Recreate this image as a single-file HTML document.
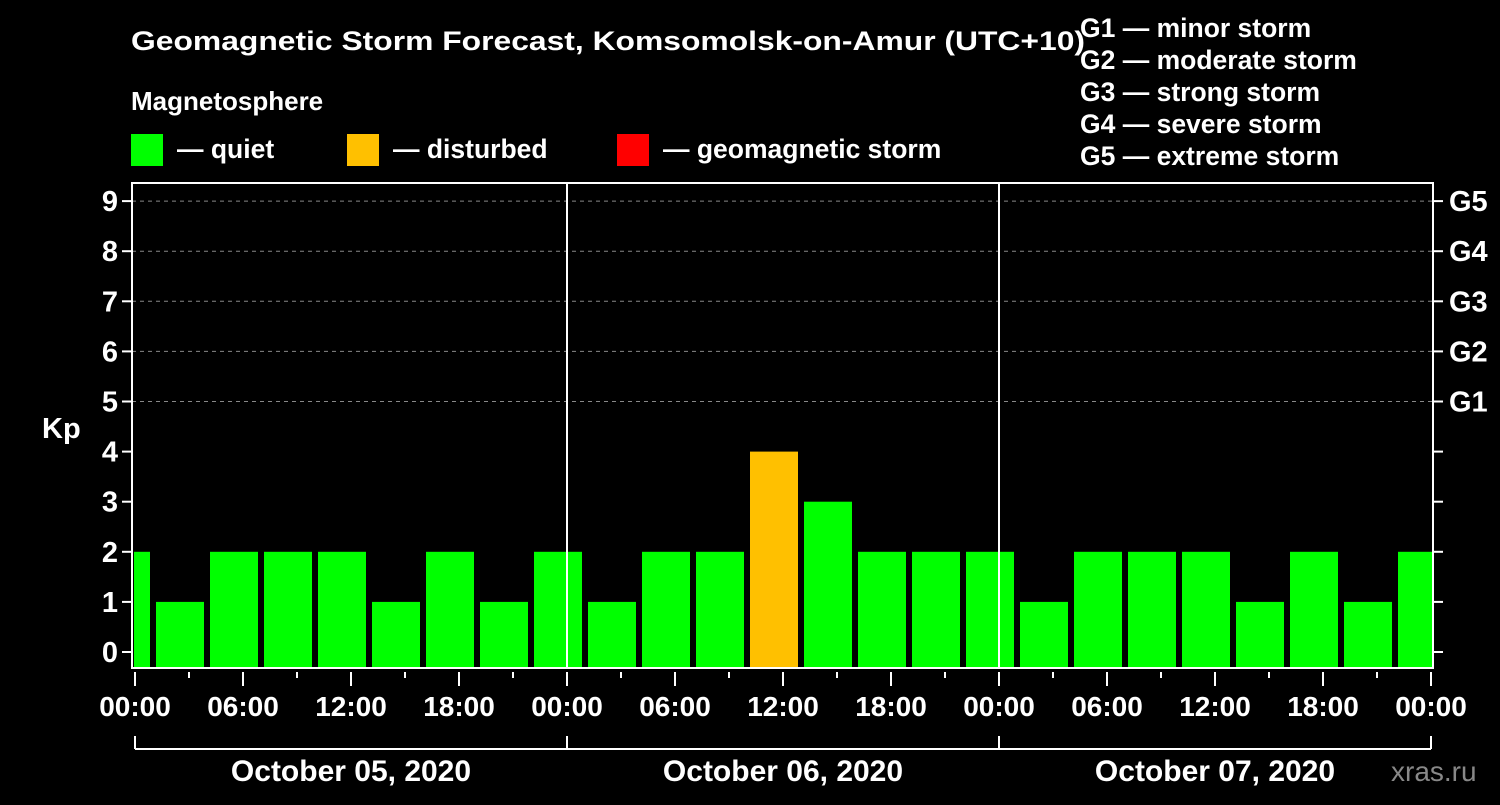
<!DOCTYPE html>
<html><head><meta charset="utf-8"><style>
html,body{margin:0;padding:0;background:#000;}
svg text{font-family:"Liberation Sans",Arial,sans-serif;font-weight:bold;fill:#fff;}
</style></head><body>
<svg id="chart" width="1500" height="800" xmlns="http://www.w3.org/2000/svg">
<rect width="1500" height="800" fill="#000"/>
<text x="131" y="50" font-size="26.5" textLength="954" lengthAdjust="spacingAndGlyphs">Geomagnetic Storm Forecast, Komsomolsk-on-Amur (UTC+10)</text>
<text x="131" y="110" font-size="26">Magnetosphere</text>
<g>
<rect x="131" y="134" width="32" height="32" fill="#00ff00"/>
<text x="177" y="158" font-size="26.5">— quiet</text>
<rect x="347" y="134" width="32" height="32" fill="#ffc000"/>
<text x="393" y="158" font-size="26.5">— disturbed</text>
<rect x="617" y="134" width="32" height="32" fill="#ff0000"/>
<text x="663" y="158" font-size="26.5">— geomagnetic storm</text>
</g>
<g font-size="26.5">
<text x="1080" y="37">G1 — minor storm</text>
<text x="1080" y="69">G2 — moderate storm</text>
<text x="1080" y="101">G3 — strong storm</text>
<text x="1080" y="133">G4 — severe storm</text>
<text x="1080" y="165">G5 — extreme storm</text>
</g>
<text x="42" y="438" font-size="29">Kp</text>
<g id="plot"></g>
<text x="1391" y="781" font-size="28" style="fill:#888;font-weight:normal">xras.ru</text>
</svg>
<script>
const kpValues=[2,1,2,2,2,1,2,1,2,1,2,2,4,3,2,2,2,1,2,2,2,1,2,1,2];
const yTicks=[0,1,2,3,4,5,6,7,8,9];
const gLabels=["G1","G2","G3","G4","G5"];
const xTickLabels=["00:00","06:00","12:00","18:00","00:00","06:00","12:00","18:00","00:00","06:00","12:00","18:00","00:00"];
const dayLabels=["October 05, 2020","October 06, 2020","October 07, 2020"];
const NS="http://www.w3.org/2000/svg";
const L=132,R=1433,T=183,B=668,x0=135,pxH=(1431-135)/72;
const X=h=>x0+h*pxH;
const Y=v=>652-v*50.1;
const g=document.getElementById('plot');
function mk(t,a,p){const e=document.createElementNS(NS,t);for(const k in a)e.setAttribute(k,a[k]);(p||g).appendChild(e);return e;}
const clip=mk('clipPath',{id:'pc'});mk('rect',{x:L+2,y:T,width:R-L-2,height:B-T},clip);
yTicks.forEach(v=>{if(v>=5){const l=mk('line',{x1:L,x2:R,y1:Y(v),y2:Y(v),stroke:'#888','stroke-dasharray':'4,4','stroke-width':1});
}
const t=mk('line',{x1:L-10,x2:L,y1:Y(v),y2:Y(v),stroke:'#fff','stroke-width':2});

const t2=mk('line',{x1:R,x2:R+10,y1:Y(v),y2:Y(v),stroke:'#fff','stroke-width':2});

const tx=mk('text',{x:L-14,y:Y(v)+10,'font-size':29,'text-anchor':'end'});tx.textContent=v;

if(v>=5){const gt=mk('text',{x:R+16,y:Y(v)+10,'font-size':29});gt.textContent=gLabels[v-5];
}});
const bars=mk('g',{'clip-path':'url(#pc)'});
kpValues.forEach((v,i)=>{const c=X(3*i-0.5);const r=mk('rect',{x:c-24,y:Y(v),width:48,height:B-Y(v),fill:v>=5?'#ff0000':(v>=4?'#ffc000':'#00ff00')},bars);
});
[24,48].forEach(h=>{const l=mk('line',{x1:X(h),x2:X(h),y1:T,y2:B,stroke:'#fff','stroke-width':2});
});
const fr=mk('rect',{x:L,y:T,width:R-L,height:B-T,fill:'none',stroke:'#fff','stroke-width':2});

for(let h=0;h<=72;h+=3){const major=h%6===0;const l=mk('line',{x1:X(h),x2:X(h),y1:B+4,y2:B+(major?18:10),stroke:'#fff','stroke-width':2});
}
xTickLabels.forEach((s,i)=>{const t=mk('text',{x:X(i*6),y:716,'font-size':28,'text-anchor':'middle'});t.textContent=s;
});
const br=mk('line',{x1:X(0),x2:X(72),y1:749,y2:749,stroke:'#fff','stroke-width':2});

[0,24,48,72].forEach(h=>{const l=mk('line',{x1:X(h),x2:X(h),y1:736,y2:749,stroke:'#fff','stroke-width':2});
});
dayLabels.forEach((s,i)=>{const t=mk('text',{x:X(i*24+12),y:781,'font-size':30,'text-anchor':'middle'});t.textContent=s;
});
</script>
</body></html>
